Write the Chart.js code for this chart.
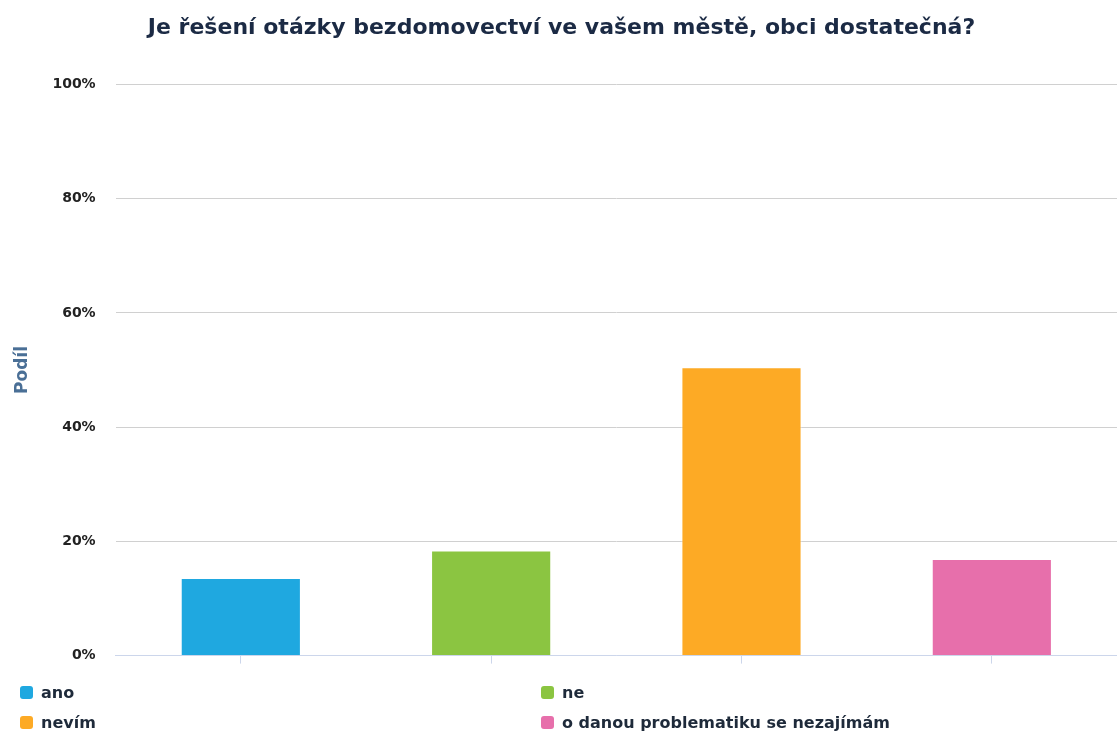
<!DOCTYPE html>
<html>
<head>
<meta charset="utf-8">
<script src="https://cdn.jsdelivr.net/npm/chart.js@4"></script>
<style>
  html, body { margin: 0; padding: 0; background: #fff; overflow: hidden; }
  #wrap { position: relative; width: 1117px; height: 736px; }
  #legend { position: absolute; left: 20px; top: 683px; width: 1097px;
    font: bold 16px "DejaVu Sans", sans-serif; color: #1e2a3a; }
  .item { position: absolute; display: flex; align-items: center; white-space: nowrap; }
  .box { width: 13px; height: 13px; border-radius: 3px; margin-right: 8px; }
</style>
</head>
<body>
<div id="wrap">
  <canvas id="chart" width="1117" height="736"></canvas>
  <div id="legend"></div>
</div>
<script>
const categories = ["ano", "ne", "nevím", "o danou problematiku se nezajímám"];
const shares = [13.6, 18.4, 50.5, 16.9];
const colors = ["#1fa8e0", "#8bc541", "#fdaa25", "#e76fab"];
const yTicks = [0, 20, 40, 60, 80, 100];

// legend in two columns, like the original
const legend = document.getElementById("legend");
categories.forEach(function (name, i) {
  const item = document.createElement("div");
  item.className = "item";
  item.style.left = (i % 2 === 0 ? 0 : 521) + "px";
  item.style.top = (Math.floor(i / 2) * 30) + "px";
  item.innerHTML = '<span class="box" style="background:' + colors[i] + '"></span>' + name;
  legend.appendChild(item);
});

new Chart(document.getElementById("chart"), {
  type: "bar",
  data: {
    labels: categories,
    datasets: [{
      data: shares,
      backgroundColor: colors,
      borderColor: "rgba(255,255,255,0.6)",
      borderWidth: 1,
      barPercentage: 0.48,
      categoryPercentage: 1
    }]
  },
  options: {
    responsive: false,
    animation: false,
    layout: { padding: { left: 6, right: 0, top: 0, bottom: 52 } },
    plugins: {
      legend: { display: false },
      tooltip: { enabled: false },
      title: {
        display: true,
        text: "Je řešení otázky bezdomovectví ve vašem městě, obci dostatečná?",
        color: "#1b2a44",
        font: { family: "DejaVu Sans", size: 22, weight: "bold" },
        padding: { top: 15, bottom: 43 }
      }
    },
    scales: {
      x: {
        grid: { offset: false, drawOnChartArea: false, drawTicks: true, tickLength: 8, color: "#ccd6eb" },
        border: { color: "#ccd6eb", z: 1 },
        ticks: { callback: function () { return ""; } }
      },
      y: {
        min: 0,
        max: 100,
        afterBuildTicks: function (axis) { axis.ticks = yTicks.map(function (v) { return { value: v }; }); },
        grid: {
          color: function (ctx) { return ctx.tick && ctx.tick.value === 0 ? "#ccd6eb" : "#d0d0d0"; },
          drawTicks: false
        },
        border: { display: false },
        ticks: {
          padding: 20,
          color: "#222",
          font: { family: "DejaVu Sans", size: 14, weight: "bold" },
          callback: function (v) { return v + "%"; }
        },
        title: {
          display: true,
          text: "Podíl",
          color: "#4a6f96",
          font: { family: "DejaVu Sans", size: 17, weight: "bold" },
          padding: { top: 6, bottom: 0 }
        }
      }
    }
  }
});
</script>
</body>
</html>
